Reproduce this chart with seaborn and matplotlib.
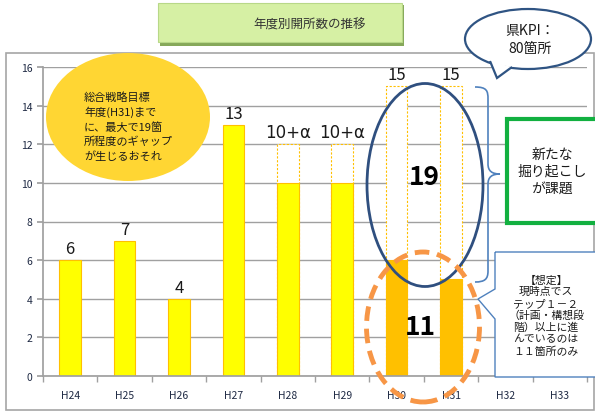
import numpy as np
import pandas as pd
import matplotlib
matplotlib.use("Agg")
import matplotlib.pyplot as plt
import seaborn as sns
from matplotlib.patches import Ellipse, Rectangle, PathPatch
from matplotlib.path import Path

# data
years = ['H24', 'H25', 'H26', 'H27', 'H28', 'H29', 'H30', 'H31', 'H32', 'H33']
actual = [6, 7, 4, 13, 10, 10, 6, 5, 0, 0]
expected = [0, 0, 0, 0, 12, 12, 15, 15, 0, 0]
bar_labels = ['6', '7', '4', '13', '10+α', '10+α', '15', '15', '', '']
bar_colors = ['#ffff00'] * 6 + ['#ffc000'] * 2 + ['#ffff00'] * 2
gap_total = 19
now_total = 11

sns.set_theme(style="white")
plt.rcParams['font.family'] = ['Noto Sans CJK JP', 'DejaVu Sans']

W, H = 595, 414
fig = plt.figure(figsize=(W / 100, H / 100), dpi=100)


def fx(x):
    return x / W


def fy(y):
    return 1 - y / H


# outer frame of the chart
fig.patches.append(Rectangle((fx(6), fy(411)), fx(588), 357 / H, transform=fig.transFigure,
                             fill=False, ec='#a6a6a6', lw=1.2))

ax = fig.add_axes([fx(43), fy(377), fx(544), 309 / H])
df = pd.DataFrame({'year': years, 'actual': actual, 'expected': expected})

# planned outline bars (dashed) then the real ones on top
sns.barplot(data=df, x='year', y='expected', color='white', width=0.4, ax=ax,
            edgecolor='#ffc000', linewidth=0.8, saturation=1)
for p in ax.patches:
    p.set_linestyle((0, (2, 1.5)))
sns.barplot(data=df, x='year', y='actual', hue='year', palette=bar_colors, width=0.4,
            ax=ax, legend=False, edgecolor='#ffc000', linewidth=0.8, saturation=1)

for i, lab in enumerate(bar_labels):
    if lab:
        top = max(actual[i], expected[i])
        ax.text(i, top + 0.15, lab, ha='center', va='bottom', fontsize=12,
                color='#1a1a1a', family=['DejaVu Sans'] if 'α' in lab else None)

ax.set_ylim(0, 16)
ax.set_xlim(-0.5, 9.5)
ax.set_yticks(range(0, 17, 2))
ax.yaxis.grid(True, color='#a0a0a0', lw=1)
ax.set_axisbelow(True)
ax.set_xlabel('')
ax.set_ylabel('')
for s in ['top', 'right']:
    ax.spines[s].set_visible(False)
ax.spines['left'].set_color('#a0a0a0')
ax.spines['bottom'].set_color('#a0a0a0')
ax.set_xticks(np.arange(-0.5, 10, 1), minor=True)
ax.set_xticks(range(10))
ax.set_xticklabels(years)
ax.tick_params(axis='x', which='major', length=0, pad=10, labelsize=7.5, labelcolor='#1f2a44')
ax.tick_params(axis='x', which='minor', length=4, color='#a0a0a0', direction='out', bottom=True)
ax.tick_params(axis='y', length=4, color='#a0a0a0', direction='out', left=True,
               labelsize=7.5, labelcolor='#1f2a44')

# title box
fig.patches.append(Rectangle((fx(160), fy(47)), fx(244), 41 / H, transform=fig.transFigure,
                             fc='#86a85a', ec='none'))
fig.patches.append(Rectangle((fx(158), fy(43)), fx(244), 39 / H, transform=fig.transFigure,
                             fc='#d6f0a4', ec='#b8d888', lw=0.8))
fig.text(fx(310), fy(25), '年度別開所数の推移', ha='center', va='center', fontsize=9, color='#333333')

# yellow circle note
fig.patches.append(Ellipse((fx(128), fy(118)), fx(164), 128 / H, transform=fig.transFigure,
                           fc='#ffd633', ec='none'))
fig.text(fx(84), fy(127), '総合戦略目標\n年度(H31)まで\nに、最大で19箇\n所程度のギャップ\nが生じるおそれ',
         ha='left', va='center', fontsize=8, linespacing=1.45, color='#1a1a1a')

# KPI speech bubble
fig.patches.append(Ellipse((fx(528), fy(40)), fx(126), 60 / H, transform=fig.transFigure,
                           fc='white', ec='#2f5483', lw=1.6, zorder=5))
tail = Path([(fx(490), fy(62)), (fx(497), fy(79)), (fx(512), fy(68))])
fig.patches.append(PathPatch(tail, transform=fig.transFigure, fc='white', ec='#2f5483',
                             lw=1.6, zorder=5))
fig.patches.append(PathPatch(Path([(fx(491), fy(60)), (fx(511), fy(66))]), transform=fig.transFigure,
                             ec='white', lw=2.5, zorder=6))
fig.text(fx(530), fy(40), '県KPI：\n80箇所', ha='center', va='center', fontsize=10,
         linespacing=1.3, color='#1a1a1a', zorder=7)

# gap ellipse and now ellipse
fig.patches.append(Ellipse((fx(425), fy(186)), fx(116), 203 / H, transform=fig.transFigure,
                           fill=False, ec='#2f4f7f', lw=2, zorder=4))
fig.text(fx(424), fy(178), str(gap_total), ha='center', va='center', fontsize=19,
         fontweight='bold', color='black')
fig.patches.append(Ellipse((fx(423), fy(328)), fx(113), 150 / H, transform=fig.transFigure,
                           fill=False, ec='#f79646', lw=3.5, ls=(0, (3, 1.6)), zorder=4))
fig.text(fx(420), fy(328), str(now_total), ha='center', va='center', fontsize=19,
         fontweight='bold', color='black')

# brace
brace = Path([(fx(475), fy(88)), (fx(487), fy(88)), (fx(488), fy(92)), (fx(488), fy(100)),
              (fx(488), fy(165)),
              (fx(488), fy(172)), (fx(492), fy(175)), (fx(500), fy(175)),
              (fx(492), fy(175)), (fx(488), fy(178)), (fx(488), fy(185)),
              (fx(488), fy(272)),
              (fx(488), fy(280)), (fx(485), fy(283)), (fx(475), fy(283))],
             [Path.MOVETO, Path.CURVE4, Path.CURVE4, Path.CURVE4, Path.LINETO,
              Path.CURVE4, Path.CURVE4, Path.CURVE4, Path.CURVE4, Path.CURVE4, Path.CURVE4,
              Path.LINETO, Path.CURVE4, Path.CURVE4, Path.CURVE4])
fig.patches.append(PathPatch(brace, transform=fig.transFigure, fill=False, ec='#4f81bd', lw=1.2))

# green box
fig.patches.append(Rectangle((fx(507), fy(224)), fx(95), 104 / H, transform=fig.transFigure,
                             fc='white', ec='#12b040', lw=3))
fig.text(fx(552), fy(172), '新たな\n掘り起こし\nが課題', ha='center', va='center', fontsize=10,
         linespacing=1.3, color='#1a1a1a')

# callout box at bottom right
call = Path([(fx(495), fy(253)), (fx(600), fy(253)), (fx(600), fy(378)), (fx(495), fy(378)),
             (fx(495), fy(320)), (fx(478), fy(300)), (fx(495), fy(290)), (fx(495), fy(253))])
fig.patches.append(PathPatch(call, transform=fig.transFigure, fc='white', ec='#4f81bd', lw=1))
fig.text(fx(546), fy(316), '【想定】\n現時点でス\nテップ１－２\n（計画・構想段\n階）以上に進\nんでいるのは\n１１箇所のみ',
         ha='center', va='center', fontsize=7.8, linespacing=1.2, color='#1a1a1a')

fig.savefig('out.png', dpi=100)
